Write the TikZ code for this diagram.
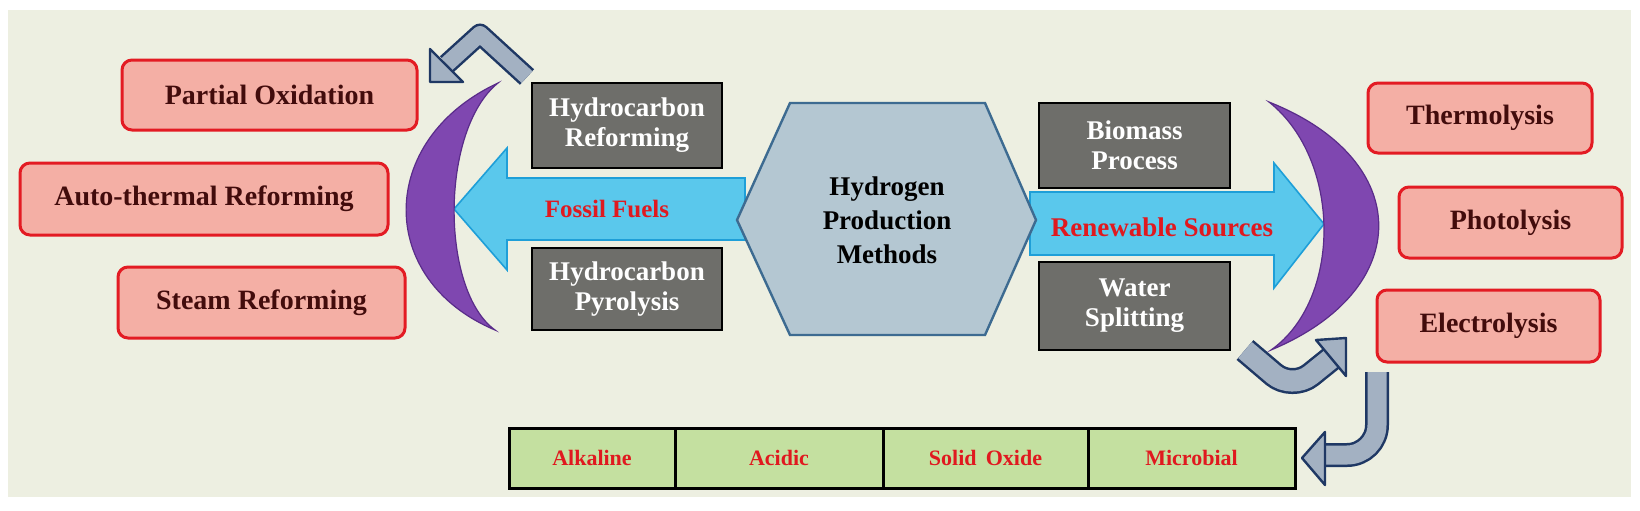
\documentclass[tikz,border=0pt]{standalone}
\usepackage{fontspec}
\setmainfont{Liberation Serif}
\begin{document}
\begin{tikzpicture}[x=0.5pt,y=-0.5pt,
  redbox/.style={draw=boxred,fill=salmon,line width=1.5pt,rounded corners=5pt,font=\fontsize{14}{16}\bfseries\selectfont,text=darktxt},
  graybox/.style={draw=black,fill=grayfill,line width=1.3pt,font=\fontsize{13.5}{15}\bfseries\selectfont,text=white,align=center},
  cell/.style={draw=black,fill=greenfill,line width=1.5pt,minimum height=30pt,font=\fontsize{11}{13}\bfseries\selectfont,text=redtxt},
  bigarrow/.style={fill=cyanfill,draw=cyanedge,line width=0.8pt},
  crescent/.style={fill=purplefill,draw=purpleedge,line width=0.6pt},
  bentout/.style={draw=navy,line width=10.5pt,line join=round},
  bentin/.style={draw=steel,line width=8pt,line join=round},
  benthead/.style={fill=steel,draw=navy,line width=1.2pt,line join=round}]
\definecolor{bg}{HTML}{EDEFE1}
\definecolor{boxred}{HTML}{E31B23}
\definecolor{salmon}{HTML}{F4AFA5}
\definecolor{darktxt}{HTML}{420C0C}
\definecolor{grayfill}{HTML}{6E6E6A}
\definecolor{greenfill}{HTML}{C4E0A0}
\definecolor{redtxt}{HTML}{E0191F}
\definecolor{cyanfill}{HTML}{5AC8EC}
\definecolor{cyanedge}{HTML}{1E9FD8}
\definecolor{purplefill}{HTML}{7F47B0}
\definecolor{purpleedge}{HTML}{5A2C8A}
\definecolor{hexfill}{HTML}{B4C7D2}
\definecolor{hexedge}{HTML}{3D6B91}
\definecolor{navy}{HTML}{1F3864}
\definecolor{steel}{HTML}{A3B1C2}
\useasboundingbox (0,0) rectangle (1640,510);
\fill[white] (0,0) rectangle (1640,510);
\fill[bg] (8,10) rectangle (1631,497);
% big arrows
\draw[bigarrow] (745,178) -- (507,178) -- (507,148) -- (454,209) -- (507,270) -- (507,240) -- (745,240) -- cycle;
\draw[bigarrow] (1030,192) -- (1274,192) -- (1274,163) -- (1324,224) -- (1274,288) -- (1274,255) -- (1030,255) -- cycle;
\node[font=\fontsize{12.5}{14}\bfseries\selectfont,text=redtxt] (ff) at (607,209) {Fossil Fuels};
\node[font=\fontsize{13.5}{15}\bfseries\selectfont,text=redtxt] (rs) at (1162,227) {Renewable Sources};
% hexagon
\draw[fill=hexfill,draw=hexedge,line width=1.2pt] (737,220) -- (790,103) -- (985,103) -- (1036,220) -- (985,335) -- (790,335) -- cycle;
\node[font=\fontsize{13.5}{17}\bfseries\selectfont,align=center] (hex) at (887,220) {Hydrogen\\Production\\Methods};
% crescents
\draw[crescent] (498,83) .. controls (376,140) and (376,280) .. (495,330) .. controls (440,290) and (440,130) .. (498,83) -- cycle;
\draw[crescent] (1269,102) .. controls (1415,160) and (1415,290) .. (1271,350) .. controls (1342,300) and (1342,160) .. (1269,102) -- cycle;
% red boxes
\node[redbox,minimum width=147.5pt,minimum height=35pt] (po) at (269.5,95) {Partial Oxidation};
\node[redbox,minimum width=184pt,minimum height=36pt] (atr) at (204,199) {Auto-thermal Reforming};
\node[redbox,minimum width=143.5pt,minimum height=35.5pt] (sr) at (261.5,302.5) {Steam Reforming};
\node[redbox,minimum width=112pt,minimum height=35pt] (th) at (1480,118) {Thermolysis};
\node[redbox,minimum width=111.5pt,minimum height=35.5pt] (ph) at (1510.5,222.5) {Photolysis};
\node[redbox,minimum width=111.5pt,minimum height=36pt] (el) at (1488.5,326) {Electrolysis};
% gray boxes
\node[graybox,minimum width=95pt,minimum height=42.5pt] (hr) at (627,125.5) {Hydrocarbon\\Reforming};
\node[graybox,minimum width=95pt,minimum height=41pt] (hp) at (627,289) {Hydrocarbon\\Pyrolysis};
\node[graybox,minimum width=95.5pt,minimum height=42.5pt] (bp) at (1134.5,145.5) {Biomass\\Process};
\node[graybox,minimum width=95.5pt,minimum height=44pt] (ws) at (1134.5,306) {Water\\Splitting};
% bottom bar
\node[cell,minimum width=83pt] (alk) at (592,458) {Alkaline};
\node[cell,minimum width=104pt] (aci) at (779,458) {Acidic};
\node[cell,minimum width=102.5pt] (so) at (985.5,458) {Solid\ \,Oxide};
\node[cell,minimum width=103.5pt] (mic) at (1191.5,458) {Microbial};
% bent arrows
\coordinate (a1) at (527,77); \coordinate (a2) at (480,34); \coordinate (a3) at (447,64);
\draw[bentout] (a1) -- (a2) -- (a3);
\draw[bentin] (a1) -- (a2) -- (a3);
\draw[benthead] (430,49) -- (430,82) -- (463,82) -- cycle;
\coordinate (b1) at (1245,350); \coordinate (b2) at (1292,390); \coordinate (b3) at (1333,357);
\draw[bentout,line width=13pt,rounded corners=12pt] (b1) -- (b2) -- (b3);
\draw[bentin,line width=10.5pt,rounded corners=12pt] (b1) -- (b2) -- (b3);
\draw[benthead] (1316,340) -- (1346,338) -- (1346,376) -- cycle;
\coordinate (c1) at (1377,372); \coordinate (c3) at (1325,455);
\draw[bentout,line width=12pt] (c1) -- (1377,425) arc[start angle=0,end angle=90,radius=30] -- (c3);
\draw[bentin,line width=9.5pt] (c1) -- (1377,425) arc[start angle=0,end angle=90,radius=30] -- (c3);
\draw[benthead] (1325,432) -- (1302,458) -- (1325,485) -- cycle;
\end{tikzpicture}
\end{document}
